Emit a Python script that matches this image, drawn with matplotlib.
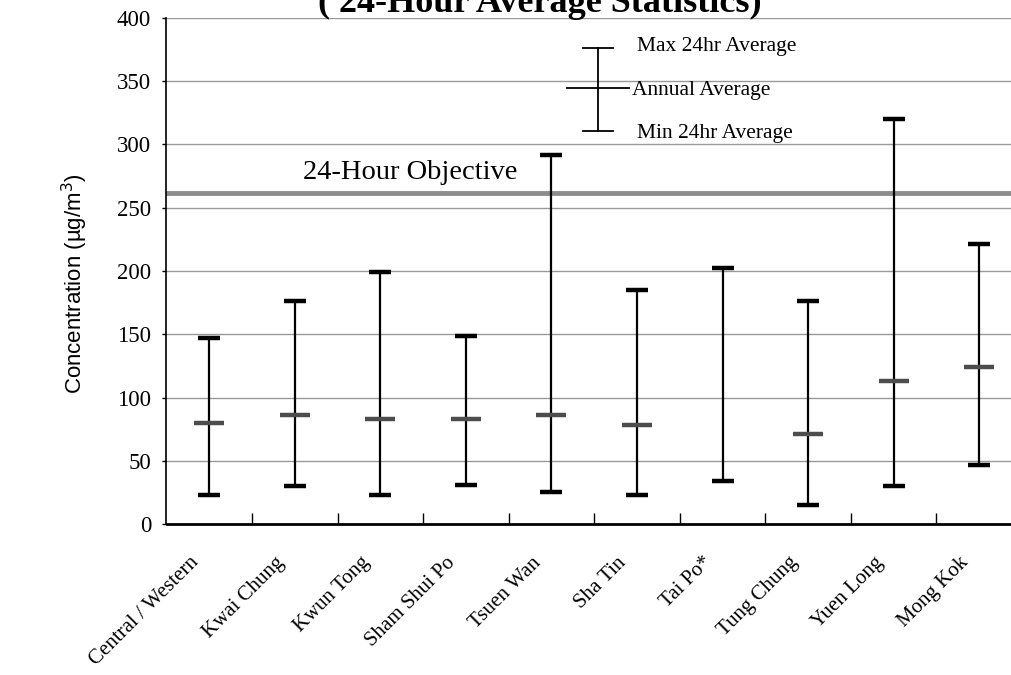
import matplotlib
matplotlib.use("Agg")
import matplotlib.pyplot as plt
import matplotlib.transforms as mtransforms
import numpy as np

stations = ["Central / Western", "Kwai Chung", "Kwun Tong", "Sham Shui Po",
            "Tsuen Wan", "Sha Tin", "Tai Po*", "Tung Chung", "Yuen Long", "Mong Kok"]
max_24hr = [147, 176, 199, 149, 292, 185, 202, 176, 320, 221]
annual_avg = [80, 86, 83, 83, 86, 78, np.nan, 71, 113, 124]
min_24hr = [23, 30, 23, 31, 25, 23, 34, 15, 30, 47]
objective = 262
y_ticks = [0, 50, 100, 150, 200, 250, 300, 350, 400]

SERIF = ["Liberation Serif", "DejaVu Serif"]
SANS = ["Liberation Sans", "DejaVu Sans"]

fig = plt.figure(figsize=(10.12, 6.75), dpi=100)
ax = fig.add_axes([166.5 / 1012, 151 / 675, (1022 - 166.5) / 1012, 506 / 675])

x = np.arange(len(stations))
ax.set_xlim(-0.5, len(stations) - 0.5)
ax.set_ylim(0, 400)

# gridlines
for yv in y_ticks[1:]:
    ax.axhline(yv, color="#999999", lw=1.0, zorder=0)

# objective line
ax.axhline(objective, color="#8c8c8c", lw=3.5, zorder=1)
ax.text(1.09, objective + 6, "24-Hour Objective", family=SERIF, fontsize=20.5,
        ha="left", va="bottom", zorder=3)

# range bars
lo = np.array(min_24hr)
hi = np.array(max_24hr)
ax.vlines(x, lo, hi, color="black", lw=1.6, zorder=3)
ax.plot(x, hi, ls="none", marker="_", ms=16, mew=3.2, color="black", zorder=4)
ax.plot(x, lo, ls="none", marker="_", ms=16, mew=3.2, color="black", zorder=4)
ax.plot(x, annual_avg, ls="none", marker="_", ms=21, mew=3.2, color="#4d4d4d", zorder=5)

# legend key drawn in data space
lx = 4.545
l_max, l_mid, l_min = 376.5, 344.5, 310.5
ax.plot([lx, lx], [l_min, l_max], color="black", lw=1.3, zorder=6)
ax.plot([lx - 0.18, lx + 0.18], [l_max, l_max], color="black", lw=1.3, zorder=6)
ax.plot([lx - 0.18, lx + 0.18], [l_min, l_min], color="black", lw=1.3, zorder=6)
ax.plot([lx - 0.36, lx + 0.36], [l_mid, l_mid], color="black", lw=1.3, zorder=6)
ax.text(lx + 0.46, l_max + 1, "Max 24hr Average", family=SERIF, fontsize=15.5, ha="left", va="center")
ax.text(lx + 0.40, l_mid - 2, "Annual Average", family=SERIF, fontsize=15.5, ha="left", va="center")
ax.text(lx + 0.46, l_min - 2, "Min 24hr Average", family=SERIF, fontsize=15.5, ha="left", va="center")

# axes styling
for s in ["top", "right"]:
    ax.spines[s].set_visible(False)
ax.spines["left"].set_color("black")
ax.spines["left"].set_linewidth(1.2)
ax.spines["bottom"].set_color("black")
ax.spines["bottom"].set_linewidth(2.0)

ax.set_yticks(y_ticks)
ax.set_yticklabels([str(v) for v in y_ticks], family=SERIF, fontsize=16.5)
ax.tick_params(axis="y", direction="out", length=3, width=1, pad=8)

ax.set_xticks(x)
ax.set_xticklabels(stations, family=SERIF, fontsize=15,
                   rotation=45, ha="right", rotation_mode="anchor")
ax.tick_params(axis="x", which="major", length=0, pad=21)
shift = mtransforms.ScaledTranslation(-20 / 100, 0, fig.dpi_scale_trans)
for lab in ax.get_xticklabels():
    lab.set_transform(lab.get_transform() + shift)
ax.set_xticks(np.arange(0.5, len(stations) - 0.5, 1.0), minor=True)
ax.tick_params(axis="x", which="minor", direction="in", length=8, width=1, color="black")

fig.text(75 / 1012, 1 - 284 / 675, "Concentration (µg/m$^3$)", family=SANS, fontsize=16,
         rotation=90, ha="center", va="center")

fig.text(540 / 1012, 1 - 12 / 675, "( 24-Hour Average Statistics)", family=SERIF,
         fontweight="bold", fontsize=26, ha="center", va="baseline")

fig.savefig("out.png", dpi=100)
